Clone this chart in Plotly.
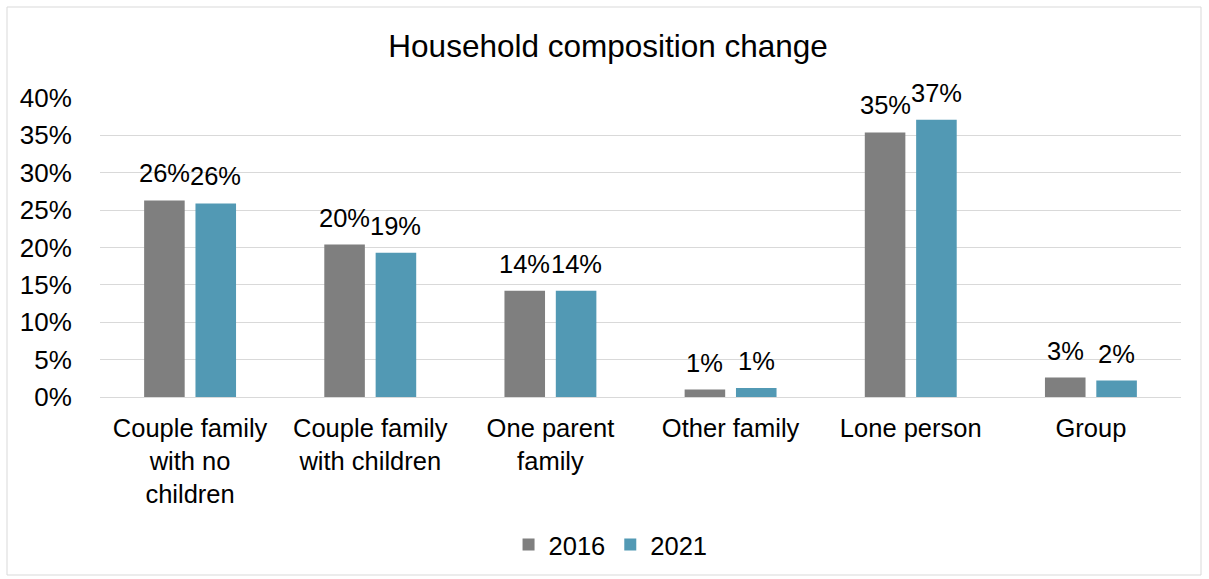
import plotly.graph_objects as go

# Household composition shares by category, census years 2016 and 2021
categories = [
    "Couple family<br>with no<br>children",
    "Couple family<br>with children",
    "One parent<br>family",
    "Other family",
    "Lone person",
    "Group",
]
share_2016 = [0.263, 0.204, 0.142, 0.010, 0.354, 0.026]
share_2021 = [0.259, 0.193, 0.142, 0.012, 0.371, 0.022]
series_names = ["2016", "2021"]
y_ticks = [0, 0.05, 0.10, 0.15, 0.20, 0.25, 0.30, 0.35, 0.40]

FONT = "Liberation Sans, Arial, sans-serif"
GREY = "#7f7f7f"
BLUE = "#5299b4"
GRID = "#d9d9d9"

BARGAP = 0.43
GROUPGAP = 0.21

fig = go.Figure()
for name, vals, col in [(series_names[0], share_2016, GREY),
                        (series_names[1], share_2021, BLUE)]:
    fig.add_trace(go.Bar(
        name=name,
        x=list(range(len(categories))),
        y=vals,
        marker=dict(color=col, line=dict(width=0)),
        hoverinfo="skip",
    ))

# value labels above each bar, offset to the centre of its bar slot
offset = (1 - BARGAP) / 4
annotations = []
for k, vals in enumerate([share_2016, share_2021]):
    dx = -offset if k == 0 else offset
    for i, v in enumerate(vals):
        annotations.append(dict(
            x=i + dx, y=v, xref="x", yref="y",
            text=f"{round(v * 100):.0f}%",
            showarrow=False, yanchor="bottom", yshift=11,
            font=dict(family=FONT, size=25.5, color="#000"),
        ))

fig.update_layout(
    width=1209, height=579,
    margin=dict(l=100, r=28, t=98, b=182),
    paper_bgcolor="white", plot_bgcolor="white",
    barmode="group", bargap=BARGAP, bargroupgap=GROUPGAP,
    font=dict(family=FONT, size=25, color="#000"),
    title=dict(
        text="Household composition change",
        x=0.503, xref="container", xanchor="center",
        y=1 - 46 / 579, yref="container", yanchor="middle",
        font=dict(family=FONT, size=31.5, color="#000"),
    ),
    xaxis=dict(
        tickmode="array",
        tickvals=list(range(len(categories))),
        ticktext=categories,
        range=[-0.5, len(categories) - 0.5],
        showgrid=False, zeroline=False,
        showline=True, linecolor=GRID, linewidth=1,
        ticks="outside", ticklen=8, tickcolor="rgba(0,0,0,0)",
        tickfont=dict(family=FONT, size=25.5, color="#000"),
    ),
    yaxis=dict(
        range=[0, 0.40],
        tickmode="array", tickvals=y_ticks,
        tickformat=".0%",
        showgrid=True, gridcolor=GRID, gridwidth=1,
        zeroline=False, showline=False,
        ticks="outside", ticklen=22, tickcolor="rgba(0,0,0,0)",
        tickfont=dict(family=FONT, size=26, color="#000"),
    ),
    legend=dict(
        orientation="h",
        xref="container", yref="container",
        x=0.505, xanchor="center",
        y=1 - 545 / 579, yanchor="middle",
        font=dict(family=FONT, size=25.5, color="#000"),
        itemwidth=30,
        traceorder="normal",
    ),
    annotations=annotations,
    shapes=[dict(
        type="rect", xref="paper", yref="paper",
        x0=(7 - 100) / 1081, x1=(1201 - 100) / 1081,
        y0=(397 - 575) / 299, y1=(397 - 7) / 299,
        line=dict(color=GRID, width=1), fillcolor="rgba(0,0,0,0)",
        layer="below",
    )],
)

fig.write_html("out.html")
